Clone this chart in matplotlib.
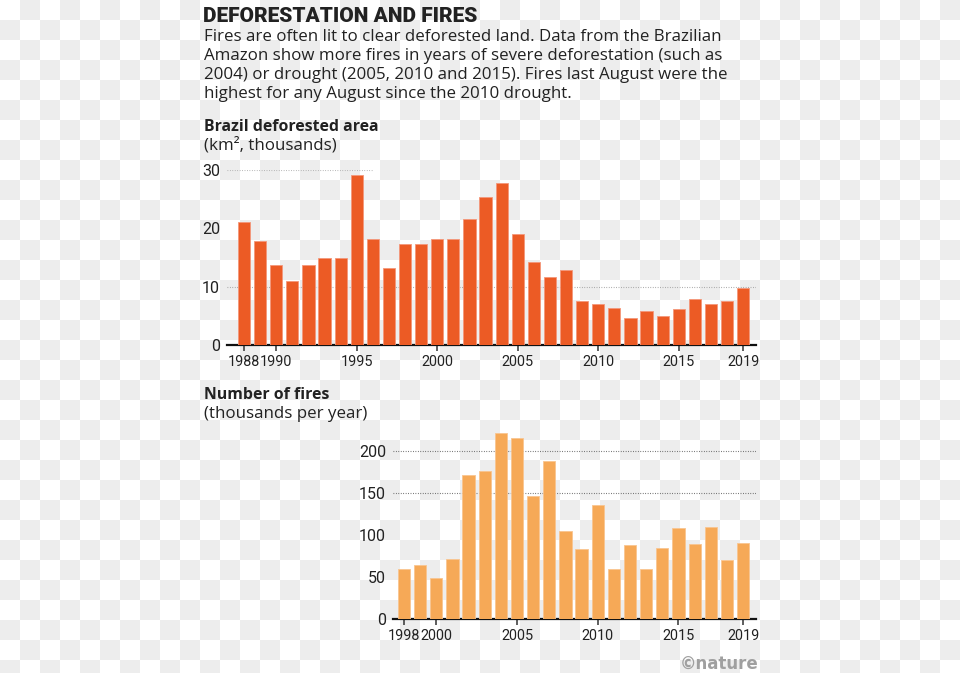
import numpy as np
import matplotlib
matplotlib.use("Agg")
from matplotlib import pyplot as plt

## Data ##
defor_years = list(range(1988, 2020))
defor_area = [21.05, 17.77, 13.73, 11.03, 13.79, 14.90, 14.90, 29.06, 18.16, 13.23,
              17.38, 17.26, 18.23, 18.17, 21.65, 25.40, 27.77, 19.01, 14.29, 11.65,
              12.91, 7.46, 7.00, 6.42, 4.57, 5.89, 5.01, 6.21, 7.89, 6.95, 7.54, 9.76]

fire_years = list(range(1998, 2020))
fire_count = [60, 64, 49, 71, 171, 176, 221, 216, 146, 188, 105,
              83, 136, 59, 88, 60, 84, 108, 89, 109, 70, 90]

defor_ticks = [1988, 1990, 1995, 2000, 2005, 2010, 2015, 2019]
fire_ticks = [1998, 2000, 2005, 2010, 2015, 2019]

title = "DEFORESTATION AND FIRES"
intro = ["Fires are often lit to clear deforested land. Data from the Brazilian",
         "Amazon show more fires in years of severe deforestation (such as",
         "2004) or drought (2005, 2010 and 2015). Fires last August were the",
         "highest for any August since the 2010 drought."]

W, H = 960, 673
BODY = "Open Sans"
INK = "#222222"
FS = 12.2
TICK_FS = 10.4

fig = plt.figure(figsize=(W / 100, H / 100), dpi=100)

# checkerboard backdrop (transparent background as it shows in the reference)
yy, xx = np.mgrid[0:H, 0:W]
board = np.where(((xx // 20) + (yy // 20)) % 2 == 1, 0.933, 1.0)
fig.figimage(np.dstack([board] * 3), xo=0, yo=0, origin="upper", zorder=-5)


def fy(y):
    return 1 - y / H


def fx(x):
    return x / W


# headings
fig.text(fx(203), fy(22.5), title, family="Roboto", weight="black",
         fontsize=15, color=INK, va="baseline")
for i, line in enumerate(intro):
    fig.text(fx(204), fy(41 + i * 19.1), line, family=BODY, fontsize=FS,
             color=INK, va="baseline")

fig.text(fx(204), fy(131), "Brazil deforested area", family=BODY, weight="bold",
         fontsize=11.4, color=INK, va="baseline")
fig.text(fx(204), fy(149.5), "(km², thousands)", family=BODY, fontsize=FS,
         color=INK, va="baseline")
fig.text(fx(204), fy(399), "Number of fires", family=BODY, weight="bold",
         fontsize=11.4, color=INK, va="baseline")
fig.text(fx(204), fy(417.5), "(thousands per year)", family=BODY, fontsize=FS,
         color=INK, va="baseline")
fig.text(fx(758), fy(665), "©nature", family="DejaVu Sans", weight="bold",
         fontsize=12, color="#a0a0a0", ha="right", va="center")


def style_axis(ax, ticks):
    ax.set_facecolor("none")
    for side in ["top", "right", "left"]:
        ax.spines[side].set_visible(False)
    ax.spines["bottom"].set_linewidth(1.6)
    ax.spines["bottom"].set_color("#111111")
    ax.set_xticks(ticks)
    ax.tick_params(axis="x", length=4, width=1.1, color="#333333", pad=3.5,
                   labelsize=TICK_FS, labelcolor=INK)
    ax.tick_params(axis="y", length=0, pad=5, labelsize=11.5, labelcolor=INK)
    for lab in ax.get_xticklabels() + ax.get_yticklabels():
        lab.set_family("Roboto")


# top chart: deforested area
ax1 = fig.add_axes([fx(227), fy(345), fx(756) - fx(227), (345 - 170) / H])
ax1.bar(defor_years, defor_area, width=0.76, color="#ec5b25",
        edgecolor="#f4977a", linewidth=0.6, zorder=3)
ax1.set_xlim(1986.94, 2019.8)
ax1.set_ylim(0, 30)
ax1.set_yticks([0, 10, 20, 30])
ax1.hlines(30, 1986.94, 1995.95, colors="#aaaaaa", linestyles=(0, (0.7, 1.5)),
           linewidth=0.8, zorder=1)
ax1.hlines(10, 1986.94, 2019.8, colors="#999999", linestyles=(0, (0.7, 1.5)),
           linewidth=0.8, zorder=1)
style_axis(ax1, defor_ticks)

# bottom chart: number of fires
ax2 = fig.add_axes([fx(393), fy(619), fx(756) - fx(393), 230 * 0.84 / H])
ax2.bar(fire_years, fire_count, width=0.76, color="#f6a957",
        edgecolor="#f9c590", linewidth=0.6, zorder=3)
ax2.set_xlim(1997.32, 2019.8)
ax2.set_ylim(0, 230)
ax2.set_yticks([0, 50, 100, 150, 200])
for level in [150, 200]:
    ax2.axhline(level, color="#555555", linestyle=(0, (0.7, 1.5)),
                linewidth=0.8, zorder=1)
style_axis(ax2, fire_ticks)

plt.savefig("out.png", dpi=100)
plt.close()
